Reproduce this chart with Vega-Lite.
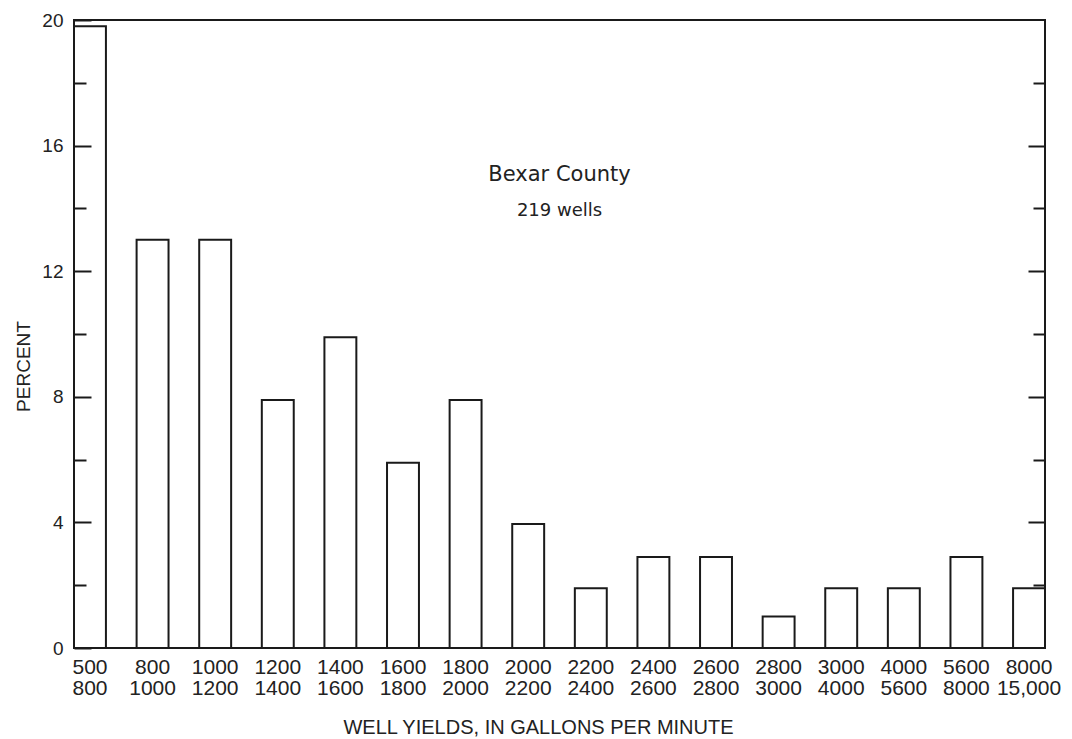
{
  "$schema": "https://vega.github.io/schema/vega-lite/v6.json",
  "width": 971,
  "height": 628,
  "autosize": {"type": "none"},
  "padding": {"left": 74, "top": 20, "right": 27, "bottom": 91},
  "background": "white",
  "config": {
    "view": {"stroke": "#1a1a1a", "strokeWidth": 2},
    "font": "Liberation Sans"
  },
  "title": {
    "text": "Bexar County",
    "subtitle": "219 wells",
    "anchor": "middle",
    "frame": "group",
    "font": "DejaVu Sans",
    "fontSize": 21,
    "fontWeight": "normal",
    "color": "#222222",
    "subtitleFont": "DejaVu Sans",
    "subtitleFontSize": 18,
    "subtitleColor": "#222222",
    "subtitlePadding": 17,
    "offset": -209
  },
  "data": {
    "values": [
      {"range": "500|800", "percent": 19.8},
      {"range": "800|1000", "percent": 13.0},
      {"range": "1000|1200", "percent": 13.0},
      {"range": "1200|1400", "percent": 7.9},
      {"range": "1400|1600", "percent": 9.9},
      {"range": "1600|1800", "percent": 5.9},
      {"range": "1800|2000", "percent": 7.9},
      {"range": "2000|2200", "percent": 3.95},
      {"range": "2200|2400", "percent": 1.9},
      {"range": "2400|2600", "percent": 2.9},
      {"range": "2600|2800", "percent": 2.9},
      {"range": "2800|3000", "percent": 1.0},
      {"range": "3000|4000", "percent": 1.9},
      {"range": "4000|5600", "percent": 1.9},
      {"range": "5600|8000", "percent": 2.9},
      {"range": "8000|15,000", "percent": 1.9}
    ]
  },
  "layer": [
    {
      "mark": {"type": "bar", "fill": "white", "stroke": "#1a1a1a", "strokeWidth": 2},
      "encoding": {
        "x": {
          "field": "range",
          "type": "nominal",
          "sort": null,
          "scale": {"paddingInner": 0.49, "paddingOuter": 0},
          "axis": {
            "labelExpr": "split(datum.label, '|')",
            "ticks": false,
            "domain": false,
            "labelAngle": 0,
            "labelFontSize": 21,
            "labelLineHeight": 21,
            "labelPadding": 8,
            "labelColor": "#222222",
            "labelOverlap": false,
            "labelBound": false,
            "labelFlush": false,
            "title": "WELL YIELDS, IN GALLONS PER MINUTE",
            "titleFontSize": 20,
            "titleFontWeight": "normal",
            "titleColor": "#222222",
            "titleX": 464,
            "titleY": 85,
            "titleAnchor": null,
            "titleAlign": "center",
            "titleBaseline": "alphabetic"
          }
        },
        "y": {
          "field": "percent",
          "type": "quantitative",
          "scale": {"domain": [0, 20], "nice": false},
          "axis": {
            "zindex": 1,
            "values": [0, 2, 4, 6, 8, 10, 12, 14, 16, 18, 20],
            "labelExpr": "datum.value % 4 === 0 ? datum.label : ''",
            "domain": false,
            "grid": false,
            "tickSize": {"condition": {"test": "datum.value % 4 === 0", "value": -17}, "value": -12},
            "tickWidth": 2,
            "tickColor": "#1a1a1a",
            "labelFontSize": 19,
            "labelColor": "#222222",
            "labelPadding": 28,
            "title": "PERCENT",
            "titleFontSize": 19,
            "titleFontWeight": "normal",
            "titleColor": "#222222",
            "titleX": -45,
            "titleY": 346,
            "titleAlign": "center",
            "titleBaseline": "alphabetic"
          }
        }
      }
    },
    {
      "mark": {"type": "bar", "opacity": 0},
      "encoding": {
        "x": {"field": "range", "type": "nominal", "sort": null},
        "y": {
          "field": "percent",
          "type": "quantitative",
          "scale": {"domain": [0, 20], "nice": false},
          "axis": {
            "zindex": 1,
            "orient": "right",
            "values": [2, 4, 6, 8, 10, 12, 14, 16, 18],
            "labels": false,
            "domain": false,
            "grid": false,
            "tickSize": {"condition": {"test": "datum.value % 4 === 0", "value": -17}, "value": -12},
            "tickWidth": 2,
            "tickColor": "#1a1a1a",
            "title": null
          }
        }
      }
    }
  ],
  "resolve": {"scale": {"y": "independent"}}
}
